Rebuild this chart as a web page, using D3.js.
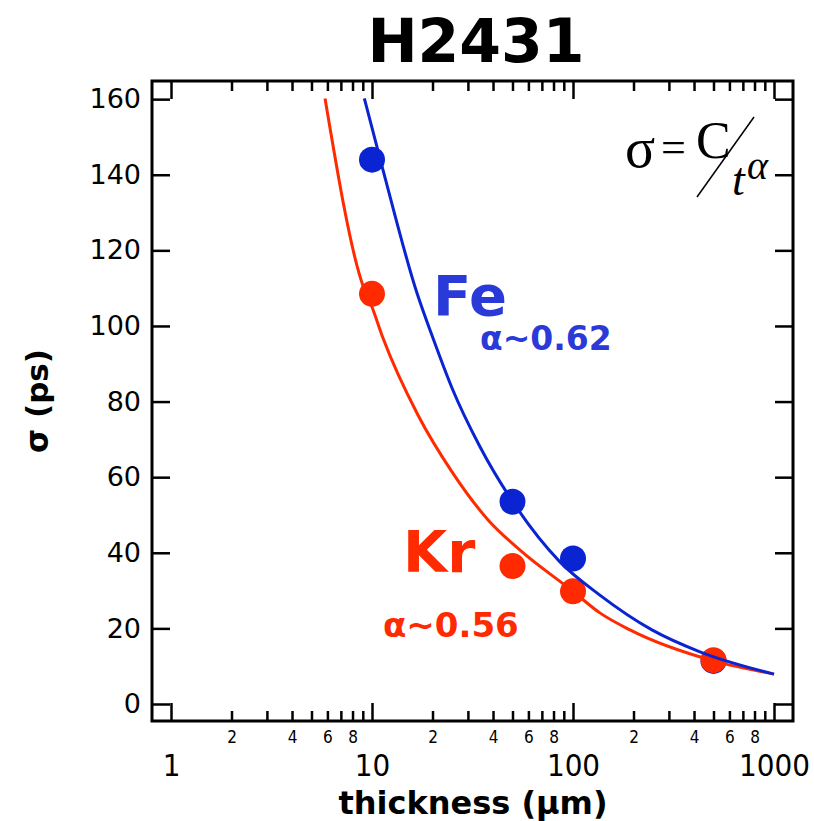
<!DOCTYPE html>
<html>
<head>
<meta charset="utf-8">
<script src="https://cdn.jsdelivr.net/npm/d3@7"></script>
<style>
  html, body { margin: 0; padding: 0; background: #fff; }
  svg { display: block; }
</style>
</head>
<body>
<svg id="chart" width="814" height="821"></svg>
<script>
// measured points, thickness in um and sigma in ps
const feThickness = [10, 50, 100, 500]
const feSigma = [144, 53.5, 38.5, 11.4]
const krThickness = [10, 50, 100, 500]
const krSigma = [108.5, 36.5, 29.8, 11.6]

// fit curves
const feCurveT = [9.16, 11.34, 16.74, 20.1, 25, 34.5, 50.3, 86.1, 136, 247, 428, 1000]
const feCurveS = [160.2, 141.3, 108.7, 96.8, 83.6, 68.0, 53.4, 37.6, 28.8, 19.6, 13.8, 7.9]
const krCurveT = [5.84, 9.05, 10, 11.34, 16.9, 25, 37.8, 54.5, 100, 136, 192, 500, 1000]
const krCurveS = [160.2, 110.4, 105, 96.8, 76.5, 61.4, 48.7, 40.7, 29.8, 24.1, 19.6, 11.4, 7.9]

// axis ticks
const yTicks = [0, 20, 40, 60, 80, 100, 120, 140, 160]
const xMajorTicks = [1, 10, 100, 1000]
const xMinorDigits = [2, 3, 4, 5, 6, 7, 8, 9]
const xLabelledDigits = [2, 4, 6, 8]

const blue = '#0a24d2'
const red = '#ff2a00'

const svg = d3.select('#chart')
const plotLeft = 152, plotRight = 793, plotTop = 81, plotBottom = 721

// 19px of room on each side of the 1..1000 decades
const x = d3.scaleLog()
    .domain([Math.pow(10, -19 / 201), Math.pow(10, 3 + 19 / 201)])
    .range([plotLeft, plotRight])
const y = d3.scaleLinear()
    .domain([-4.5, 164.8])
    .range([plotBottom, plotTop])

const minorTicks = []
xMajorTicks.slice(0, 3).forEach(dec => {
    xMinorDigits.forEach(d => minorTicks.push(dec * d))
})
const leadDigit = v => Math.round(v / Math.pow(10, Math.floor(Math.log10(v) + 1e-9)))

const tickFont = '"DejaVu Sans", sans-serif'
const narrowFont = '"DejaVu Sans Condensed", "DejaVu Sans", sans-serif'

function styleAxis(g) {
    g.select('.domain').remove()
    g.selectAll('.tick line').attr('stroke', '#000').attr('stroke-width', 2.5)
    g.selectAll('.tick text').attr('fill', '#000').style('font-family', tickFont)
}

// left / right y axes
svg.append('g')
    .attr('transform', `translate(${plotLeft},0)`)
    .call(d3.axisLeft(y).tickValues(yTicks).tickSize(-18).tickPadding(11))
    .call(styleAxis)
    .selectAll('.tick text').style('font-size', '27px')

svg.append('g')
    .attr('transform', `translate(${plotRight},0)`)
    .call(d3.axisRight(y).tickValues(yTicks).tickSize(-18).tickFormat(''))
    .call(styleAxis)

// bottom axis: majors with big labels, minors with small ones
svg.append('g')
    .attr('transform', `translate(0,${plotBottom})`)
    .call(d3.axisBottom(x).tickValues(xMajorTicks).tickSize(-18).tickPadding(33).tickFormat(d3.format('d')))
    .call(styleAxis)
    .selectAll('.tick text')
    .style('font-family', narrowFont).style('font-stretch', 'condensed').style('font-size', '31px')

svg.append('g')
    .attr('transform', `translate(0,${plotBottom})`)
    .call(d3.axisBottom(x).tickValues(minorTicks).tickSize(-10).tickPadding(10)
        .tickFormat(d => xLabelledDigits.includes(leadDigit(d)) ? leadDigit(d) : ''))
    .call(styleAxis)
    .selectAll('.tick text')
    .style('font-family', narrowFont).style('font-stretch', 'condensed').style('font-size', '17px')

// top axis, ticks only
svg.append('g')
    .attr('transform', `translate(0,${plotTop})`)
    .call(d3.axisTop(x).tickValues(xMajorTicks).tickSize(-18).tickFormat(''))
    .call(styleAxis)
svg.append('g')
    .attr('transform', `translate(0,${plotTop})`)
    .call(d3.axisTop(x).tickValues(minorTicks).tickSize(-10).tickFormat(''))
    .call(styleAxis)

// frame
svg.append('rect')
    .attr('x', plotLeft).attr('y', plotTop)
    .attr('width', plotRight - plotLeft).attr('height', plotBottom - plotTop)
    .attr('fill', 'none').attr('stroke', '#000').attr('stroke-width', 3)

const line = d3.line().x(d => x(d[0])).y(d => y(d[1])).curve(d3.curveMonotoneX)
const zip = (a, b) => a.map((v, i) => [v, b[i]])

// blue points first, red points over them, then the curves
svg.append('g').selectAll('circle')
    .data(zip(feThickness, feSigma))
    .join('circle')
    .attr('cx', d => x(d[0])).attr('cy', d => y(d[1])).attr('r', 13)
    .attr('fill', blue)

svg.append('g').selectAll('circle')
    .data(zip(krThickness, krSigma))
    .join('circle')
    .attr('cx', d => x(d[0])).attr('cy', d => y(d[1])).attr('r', 13)
    .attr('fill', red)

svg.append('path')
    .attr('d', line(zip(krCurveT, krCurveS)))
    .attr('fill', 'none').attr('stroke', red).attr('stroke-width', 3)

svg.append('path')
    .attr('d', line(zip(feCurveT, feCurveS)))
    .attr('fill', 'none').attr('stroke', blue).attr('stroke-width', 3)

// labels
const bold = (sel, size) => sel.style('font-family', tickFont).style('font-weight', 'bold').style('font-size', size + 'px')

svg.append('text').attr('x', 476).attr('y', 62).attr('text-anchor', 'middle')
    .text('H2431').call(bold, 60)

svg.append('text').attr('x', 473).attr('y', 814).attr('text-anchor', 'middle')
    .text('thickness (μm)').call(bold, 32)

svg.append('text').attr('transform', 'translate(48,401) rotate(-90)').attr('text-anchor', 'middle')
    .text('σ (ps)').call(bold, 31)

svg.append('text').attr('x', 433).attr('y', 315).attr('fill', '#2a3ad8').text('Fe').call(bold, 56)
svg.append('text').attr('x', 480).attr('y', 350).attr('fill', '#2a3ad8').text('α~0.62').call(bold, 33)
svg.append('text').attr('x', 403).attr('y', 572).attr('fill', red).text('Kr').call(bold, 57)
svg.append('text').attr('x', 383).attr('y', 637).attr('fill', red).text('α~0.56').call(bold, 34)

// formula sigma = C / t^alpha
const serif = '"Liberation Serif", "DejaVu Serif", serif'
const f = svg.append('g').style('font-family', serif).attr('fill', '#000')
f.append('text').attr('x', 625).attr('y', 167).style('font-size', '56px').text('σ')
f.append('text').attr('x', 661).attr('y', 162).style('font-size', '44px').text('=')
f.append('text').attr('x', 696).attr('y', 158).style('font-size', '52px').text('C')
f.append('line').attr('x1', 697).attr('y1', 197).attr('x2', 754).attr('y2', 117)
    .attr('stroke', '#000').attr('stroke-width', 1.5)
f.append('text').attr('x', 732).attr('y', 195).style('font-size', '46px').style('font-style', 'italic').text('t')
f.append('text').attr('x', 747).attr('y', 179).style('font-size', '40px').style('font-style', 'italic').text('α')
</script>
</body>
</html>
